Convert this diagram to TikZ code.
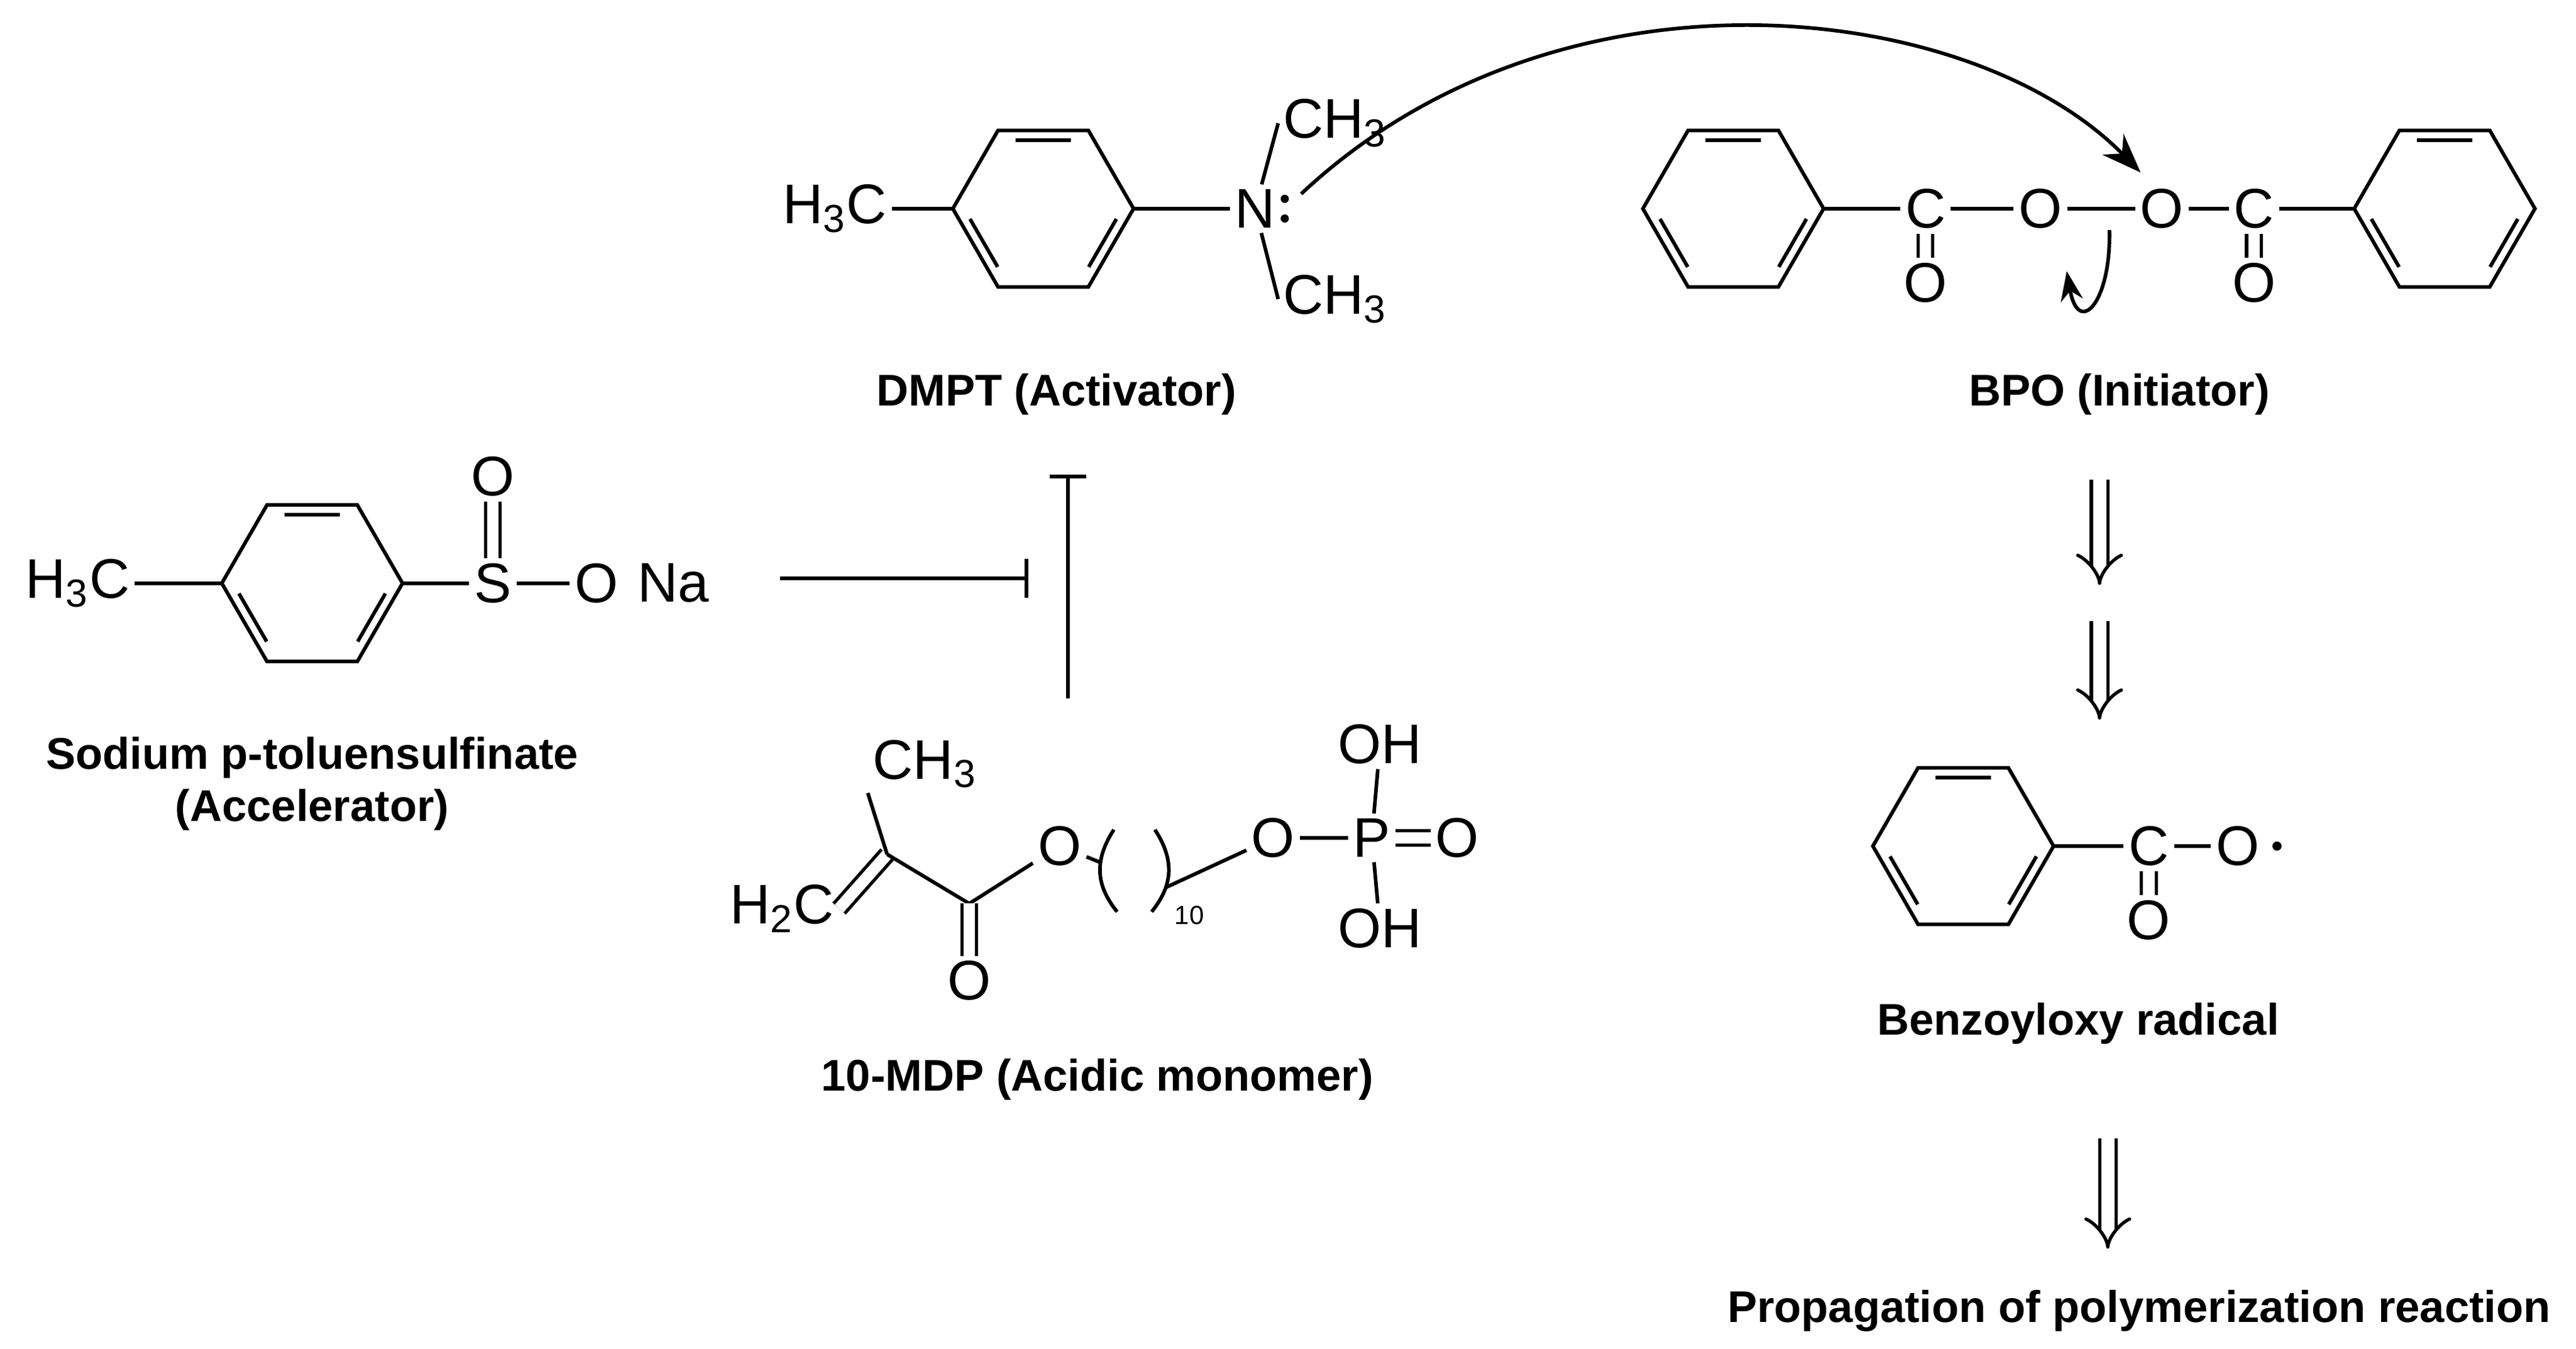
\documentclass[tikz,border=0pt]{standalone}
\usepackage{fontspec}
\setmainfont{Liberation Sans}
\usetikzlibrary{arrows.meta,calc}
\newcommand\sbs[1]{\textsubscript{#1}}
\begin{document}
\begin{tikzpicture}[x=0.5pt,y=-0.5pt,line width=1.1pt,
 atm/.style={inner sep=1pt,font=\fontsize{17}{19}\selectfont},
 lab/.style={font=\bfseries\fontsize{13.5}{16}\selectfont,align=center},
 benz/.pic={\draw (0:55)--(60:55)--(120:55)--(180:55)--(240:55)--(300:55)--cycle;
  \draw (8:45)--(52:45) (128:45)--(172:45) (248:45)--(292:45);},
 dbl/.style={double,double distance=3.5pt,line width=1pt},
 darr/.style={-{Implies},double,double distance=4pt,line width=1pt}]
\useasboundingbox (0,0) rectangle (1568,821);
% DMPT
\pic at (635,127) {benz};
\coordinate (d1) at (580,127); \coordinate (d2) at (690,127);
\node[atm,anchor=east] (dh) at (543,127) {H\sbs{3}C};
\node[atm] (dn) at (764,127) {N};
\node[atm,anchor=west] (dc1) at (778,75) {CH\sbs{3}};
\node[atm,anchor=west] (dc2) at (778,182) {CH\sbs{3}};
\fill (782,121) circle (2.5) (782,133) circle (2.5);
\draw (dh.east)--(d1) (d2)--(dn.west) (dn)--(dc1.west) (dn)--(dc2.west);
\node[lab] (l1) at (643,240) {DMPT (Activator)};
% arrow to BPO
\coordinate (ca) at (792,118); \coordinate (cb) at (1303,105);
\draw[-{Stealth[length=12pt]}] (ca) .. controls (950,-30) and (1200,0) .. (cb);
% BPO
\pic at (1055,127) {benz};
\pic at (1488,127) {benz};
\coordinate (b1) at (1110,127); \coordinate (b2) at (1433,127);
\node[atm] (bc1) at (1172,127) {C};
\node[atm] (bo1) at (1172,172) {O};
\node[atm] (bo2) at (1242,127) {O};
\node[atm] (bo3) at (1316,127) {O};
\node[atm] (bc2) at (1372,127) {C};
\node[atm] (bo4) at (1372,172) {O};
\draw (b1)--(bc1) (bc1)--(bo2) (bo2)--(bo3) (bo3)--(bc2) (bc2)--(b2);
\draw[dbl] (bc1)--(bo1); \draw[dbl] (bc2)--(bo4);
\coordinate (sa) at (1284,140); \coordinate (sb) at (1258,165);
\draw[-{Stealth[length=9pt]}] (sa) .. controls (1285,185) and (1265,205) .. (sb);
\node[lab] (l2) at (1290,240) {BPO (Initiator)};
% double arrows
\coordinate (a1) at (1278,292); \coordinate (a2) at (1278,356);
\coordinate (a3) at (1278,378); \coordinate (a4) at (1278,438);
\coordinate (a5) at (1283,693); \coordinate (a6) at (1283,760);
\draw[darr] (a1)--(a2); \draw[darr] (a3)--(a4); \draw[darr] (a5)--(a6);
% benzoyloxy
\pic at (1195,515) {benz};
\coordinate (r1) at (1250,515);
\node[atm] (rc) at (1308,515) {C};
\node[atm] (ro1) at (1308,560) {O};
\node[atm] (ro2) at (1362,515) {O};
\fill (1386,515) circle (2.8);
\draw (r1)--(rc) (rc)--(ro2); \draw[dbl] (rc)--(ro1);
\node[lab] (l3) at (1265,623) {Benzoyloxy radical};
\node[lab] (l4) at (1302,798) {Propagation of polymerization reaction};
% sulfinate
\pic at (190,355) {benz};
\coordinate (s1) at (135,355); \coordinate (s2) at (245,355);
\node[atm,anchor=east] (sh) at (82,355) {H\sbs{3}C};
\node[atm] (ss) at (300,355) {S};
\node[atm] (so1) at (300,290) {O};
\node[atm] (so2) at (363,355) {O};
\node[atm] (sna) at (410,355) {Na};
\draw (sh.east)--(s1) (s2)--(ss) (ss)--(so2); \draw[dbl] (ss)--(so1);
\node[lab] (l5) at (190,477) {Sodium p-toluensulfinate\\(Accelerator)};
% inhibition
\coordinate (i1) at (475,352); \coordinate (i2) at (626,352);
\coordinate (i3) at (650,425); \coordinate (i4) at (650,289);
\draw[-{Bar[width=12pt]}] (i1)--(i2);
\draw[-{Bar[width=11pt]}] (i3)--(i4);
% 10-MDP
\node[atm] (mh) at (476,553) {H\sbs{2}C};
\coordinate (mc1) at (540,520);
\node[atm] (mch) at (563,465) {CH\sbs{3}};
\coordinate (mc2) at (590,550);
\node[atm] (mo1) at (590,597) {O};
\node[atm] (mo2) at (645,515) {O};
\node[atm] (mo3) at (775,510) {O};
\node[atm] (mp) at (835,510) {P};
\node[atm] (mo4) at (887,510) {O};
\node[atm] (moh1) at (840,453) {OH};
\node[atm] (moh2) at (840,565) {OH};
\node[font=\fontsize{8}{9}\selectfont] (m10) at (724,557) {10};
\draw[dbl] (mh.east)--(mc1);
\draw (mc1)--(mch.south west) (mc1)--(mc2) (mc2)--(mo2);
\draw[dbl] (mc2)--(mo1);
\coordinate (p1) at (670,525);
\draw (mo2)--(p1);
\draw (678,505) .. controls (665,525) and (668,540) .. (680,555);
\draw (703,505) .. controls (716,525) and (713,540) .. (701,555);
\draw (710,540)--(mo3) (mo3)--(mp) (mp)--(moh1) (mp)--(moh2);
\draw[dbl] (mp)--(mo4);
\node[lab] (l6) at (668,657) {10-MDP (Acidic monomer)};
\end{tikzpicture}
\end{document}
